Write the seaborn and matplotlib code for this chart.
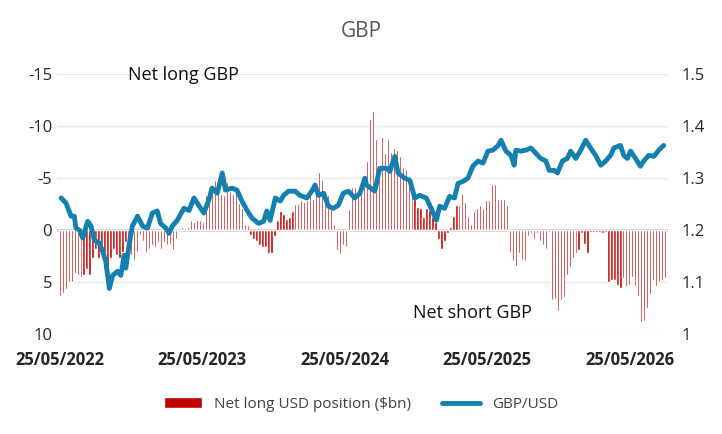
import numpy as np
import pandas as pd
import matplotlib
matplotlib.use("Agg")
import matplotlib.pyplot as plt
import seaborn as sns

# Net long USD position ($bn), weekly, from 25/05/2022
bars_a = [6.3,6.0,5.7,5.0,5.0,4.1,4.3,4.5,4.3,3.7,4.3,2.7,1.8,2.7,2.2,3.7,3.7,2.7,1.8,2.4,2.7,2.1,1.1,1.8,2.4,
          2.9,2.1,0.5,1.0,2.1,1.8,1.4,1.6,1.1,1.8,1.1,1.4,1.3,1.9,0.8,0.2,-0.3,-0.2,-0.3,-1.0,-0.8,-1.0,-1.0,-0.8]
bars_c = [-3.4,-3.4,-4.0,-4.8,-4.5,-3.5,-3.4,-4.6,-3.8,-3.5,-3.6,-2.6,-2.1,-0.6,-0.5,
          0.5,0.8,1.0,1.4,1.6,1.6,2.2,2.2,0.6,
          -1.0,-1.8,-1.6,-1.1,-1.3,-1.8,-2.5,-2.5,-2.9,-2.7,-2.9,-4.0,-3.0,-4.6,-5.6,-4.8,-3.2,-3.4,-2.1,-0.6,
          1.9,2.3,1.4,1.6,
          -2.0,-4.2,-4.2,-3.4,-4.2,-5.0,-6.7,-10.7,-11.5]
bars_d = [-8.8,-5.9,-9.0,-7.4,-8.8,-7.5,-7.9,-7.7,-7.1,-6.1,-5.9,-4.6,-4.3,-3.0,-2.2,-2.1,-1.3,-2.1,-1.9,-1.3,-0.8,
          0.8,1.8,1.0,0.3,
          -0.3,-1.4,-2.4,-2.4,-3.5,-2.7,-1.4,-0.6,-1.8,-2.1,-2.4,-2.1,-2.9,-2.9,-4.4,-4.4,-3.0,-3.0,-3.0,-2.4,
          2.1,3.0,3.4,2.2]
bars_e = [2.9,3.0,0.6,0.3,0.8,0.3,1.0,1.4,1.8,0.2,6.7,6.6,7.8,6.7,6.4,4.3,3.5,2.7,2.2,1.9,0.3,1.3,2.2,
          0.2,0.2,0.2,0.2,0.3,0.2,5.0,4.8,4.8,5.3,5.6,4.6,5.4,5.3,4.5,5.4,6.3,8.8,8.7,7.5,6.1,4.8,5.4,5.0,4.8,4.6]
usd_pos = bars_a + bars_c + bars_d + bars_e

# GBP/USD (time in weeks since 25/05/2022)
line_weeks = [0.5,2.3,4.1,5.3,5.9,7.2,8.4,10.2,11.4,12.6,14.5,15.6,16.8,18.1,19.3,21.1,22.3,23.5,24.1,25.3,26.5,28.4,
              30.2,32,33.8,35.6,36.8,38.7,39.9,41.1,42.9,45.3,47.2,49,50.2,52.6,54.4,55.6,57.5,
              59.3,60.5,62.9,64.7,66.5,68.4,70.2,72.6,74.4,75.6,76.8,78.7,80.5,81.7,83.5,85.9,87.7,90.2,92,93.2,
              94.4,96.3,98.1,99.9,101.7,103.5,105.4,107.7,109.6,111.4,
              112.0,115.0,116.8,119.3,120.5,122.3,123.5,125.9,127.8,129.6,131.4,133.8,135.6,137.5,138.7,140.5,142.3,
              144.1,145.4,147.2,149.0,150.8,152.7,154.5,156.3,158.1,159.9,161.1,162.9,164.7,165.9,
              166.5,168.4,170.2,172,173.8,175.6,177.5,178.7,180.5,181.7,183.5,185.3,186.5,188.4,190.2,192,193.8,195.6,
              197.5,199.3,201.1,202.3,204.7,205.9,207.2,208.4,210.2,212,213.2,215,216.9,218.7,220.5]
gbpusd = [1.262,1.252,1.227,1.227,1.204,1.200,1.185,1.217,1.208,1.181,1.175,1.160,1.140,1.088,1.113,1.121,1.113,1.152,
          1.127,1.171,1.208,1.227,1.208,1.204,1.233,1.237,1.213,1.204,1.194,1.208,1.219,1.242,1.238,1.262,1.252,1.233,
          1.258,1.281,1.271,
          1.310,1.277,1.281,1.277,1.256,1.238,1.223,1.213,1.217,1.237,1.219,1.262,1.256,1.267,1.275,1.275,1.267,
          1.262,1.275,1.287,1.267,1.271,1.246,1.242,1.248,1.271,1.275,1.262,1.271,1.300,
          1.287,1.275,1.319,1.319,1.313,1.342,1.310,1.300,1.296,1.262,1.267,1.262,1.242,1.219,1.246,1.242,1.265,
          1.262,1.290,1.294,1.300,1.323,1.333,1.329,1.352,1.354,1.362,1.373,1.352,1.344,1.325,
          1.354,1.352,1.354,1.358,1.348,1.338,1.333,1.315,1.315,1.310,1.333,1.338,1.352,1.338,1.354,1.373,1.358,1.344,
          1.325,1.333,1.344,1.358,1.363,1.344,1.338,1.352,1.338,1.323,1.333,1.344,1.342,1.354,1.363]

tick_labels = ["25/05/2022", "25/05/2023", "25/05/2024", "25/05/2025", "25/05/2026"]
span_weeks = 221

n = len(usd_pos)
bar_df = pd.DataFrame({"week": np.linspace(0, span_weeks, n), "pos": usd_pos})
line_df = pd.DataFrame({"week": line_weeks, "rate": gbpusd})

sns.set_style("white")
plt.rcParams["font.family"] = ["Open Sans", "DejaVu Sans"]
fig = plt.figure(figsize=(7.22, 4.34), dpi=100)
ax = fig.add_axes([0.079, 0.230, 0.846, 0.599])
spacing = span_weeks / (n - 1)
sns.barplot(data=bar_df, x="week", y="pos", native_scale=True, color="#C00000",
            width=spacing * 0.7, ax=ax, label="Net long USD position ($bn)", saturation=1, zorder=2)
ax.set_ylim(10, -15)
ax.set_yticks([-15, -10, -5, 0, 5, 10])
ax.set_yticklabels(["-15", "-10", "-5", "0", "5", "10"])
ax.grid(axis="y", color="#E8E8E8", lw=1, zorder=0)
ax.axhline(0, color="#D0D0D0", lw=2, zorder=1)
ax.set_xlim(-1, 222)
ax.set_xticks([0, 52, 104, 156, 208])
ax.set_xticklabels(tick_labels, fontsize=12, fontweight="bold")
ax.tick_params(axis="y", labelsize=12, length=0)
ax.tick_params(axis="x", length=0, pad=12)
for s in ax.spines.values():
    s.set_visible(False)
ax.set_xlabel("")
ax.set_ylabel("")

ax2 = ax.twinx()
sns.lineplot(data=line_df, x="week", y="rate", color="#1380B0", lw=3.5, ax=ax2, label="GBP/USD", legend=False)
ax2.set_ylim(1.0, 1.5)
ax2.set_yticks([1.0, 1.1, 1.2, 1.3, 1.4, 1.5])
ax2.set_yticklabels(["1", "1.1", "1.2", "1.3", "1.4", "1.5"])
ax2.tick_params(axis="y", labelsize=12, length=0, pad=10)
for s in ax2.spines.values():
    s.set_visible(False)
ax2.set_ylabel("")
ax2.set_xlim(-1, 222)

ax.text(25, -14.4, "Net long GBP", fontsize=13, color="#111111")
ax.text(129, 8.4, "Net short GBP", fontsize=13, color="#111111")
fig.text(0.5, 0.915, "GBP", ha="center", fontsize=15, color="#595959")

h1, l1 = ax.get_legend_handles_labels()
h2, l2 = ax2.get_legend_handles_labels()
if ax.get_legend():
    ax.get_legend().remove()
fig.legend(h1 + h2, l1 + l2, loc="center", bbox_to_anchor=(0.5, 0.068), ncol=2, frameon=False,
           fontsize=11, labelcolor="#404040", handlelength=2.5)
fig.savefig("out.png", dpi=100)
